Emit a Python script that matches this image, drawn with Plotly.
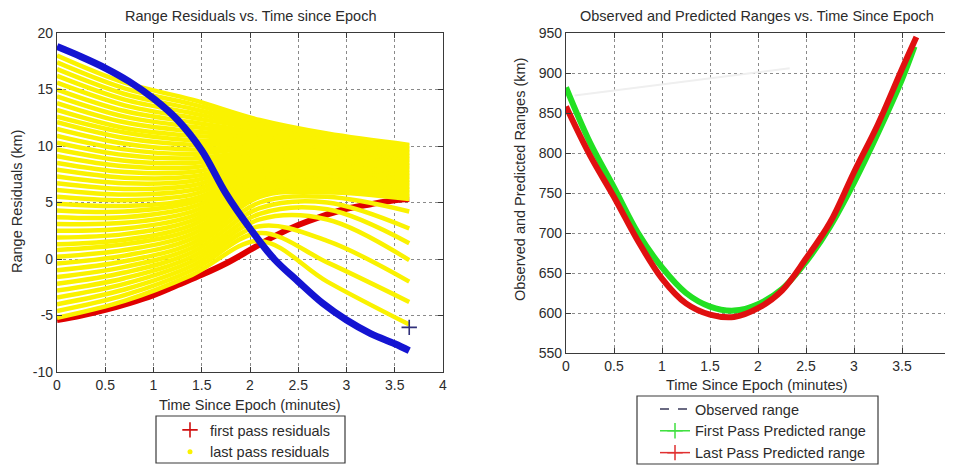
import plotly.graph_objects as go

# ---------------- Left panel: Range residuals ----------------
time_grid = [0, 0.25, 0.5, 0.75, 1.0, 1.25, 1.5, 1.75, 2.0, 2.25, 2.5, 2.75, 3.0, 3.25, 3.5, 3.65]
blue_resid = [18.8, 17.9, 16.9, 15.7, 14.2, 12.3, 9.6, 5.8, 2.7, 0.0, -2.0, -3.9, -5.4, -6.6, -7.5, -8.1]
first_pass_resid = [-5.4, -5.0, -4.5, -3.9, -3.2, -2.3, -1.4, -0.4, 0.8, 2.0, 3.0, 3.8, 4.45, 4.85, 5.2, 5.3]

# last-pass residual family: value of each yellow curve at the sampled times
yellow_t = [0, 0.7, 1.4, 2.1, 2.8, 3.65]
yellow_at_0_00 = [-5.2, -4.6, -4.0, -3.4, -2.8, -2.2, -1.6, -1.0, -0.4, 0.2, 0.8, 1.3, 1.9, 2.5, 3.1, 3.7, 4.3, 4.9, 5.5, 6.1,
                  6.7, 7.3, 7.9, 8.5, 9.1, 9.7, 10.3, 10.9, 11.5, 12.1, 12.6, 13.2, 13.8, 14.4, 15.0, 15.6, 16.2, 16.8, 17.4, 18.0]
yellow_at_0_70 = [-3.7, -3.2, -2.7, -2.2, -1.7, -1.2, -0.7, -0.2, 0.3, 0.8, 1.3, 1.7, 2.2, 2.7, 3.2, 3.7, 4.2, 4.7, 5.2, 5.7,
                  6.2, 6.7, 7.2, 7.7, 8.2, 8.7, 9.2, 9.7, 10.2, 10.7, 11.2, 11.6, 12.1, 12.6, 13.1, 13.6, 14.1, 14.6, 15.1, 15.6]
yellow_at_1_40 = [-1.4, -1.0, -0.6, -0.2, 0.2, 0.6, 1.0, 1.4, 1.8, 2.2, 2.6, 3.0, 3.4, 3.8, 4.2, 4.6, 5.0, 5.3, 5.7, 6.1,
                  6.5, 6.9, 7.3, 7.7, 8.1, 8.5, 8.9, 9.3, 9.7, 10.1, 10.5, 10.9, 11.3, 11.7, 12.1, 12.5, 12.9, 13.3, 13.7, 14.1]
yellow_at_2_10 = [1.6, 2.3, 2.9, 3.5, 4.0, 4.5, 5.0, 5.5, 5.7, 5.9, 6.1, 6.4, 6.6, 6.8, 7.0, 7.2, 7.4, 7.6, 7.8, 8.1,
                  8.3, 8.5, 8.7, 8.9, 9.1, 9.3, 9.5, 9.8, 10.0, 10.2, 10.4, 10.6, 10.8, 11.0, 11.2, 11.5, 11.7, 11.9, 12.1, 12.3]
yellow_at_2_80 = [-2.0, -0.3, 1.6, 3.5, 4.4, 5.0, 5.5, 5.9, 6.1, 6.2, 6.4, 6.6, 6.7, 6.9, 7.0, 7.2, 7.4, 7.5, 7.7, 7.9,
                  8.0, 8.2, 8.3, 8.5, 8.7, 8.8, 9.0, 9.1, 9.3, 9.5, 9.6, 9.8, 10.0, 10.1, 10.3, 10.4, 10.6, 10.8, 10.9, 11.1]
yellow_at_3_65 = [-5.8, -3.8, -2.0, -0.1, 1.4, 2.7, 4.2, 5.3, 5.5, 5.6, 5.8, 5.9, 6.1, 6.2, 6.4, 6.5, 6.7, 6.8, 7.0, 7.1,
                  7.3, 7.4, 7.6, 7.7, 7.9, 8.0, 8.2, 8.3, 8.5, 8.6, 8.8, 8.9, 9.1, 9.2, 9.4, 9.5, 9.7, 9.8, 10.0, 10.1]

extra_plus_t = [3.65]
extra_plus_r = [-6.05]

# ---------------- Right panel: ranges ----------------
range_t = [0, 0.25, 0.5, 0.75, 1.0, 1.25, 1.5, 1.75, 2.0, 2.25, 2.5, 2.75, 3.0, 3.25, 3.5, 3.63]
first_pass_range = [882, 813, 757, 700, 657, 625, 608, 603, 611, 630, 664, 708, 763, 825, 892, 933]
last_t = [0, 0.25, 0.5, 0.75, 1.0, 1.25, 1.5, 1.75, 2.0, 2.25, 2.5, 2.75, 3.0, 3.25, 3.5, 3.65]
last_pass_range = [858, 797, 745, 690, 643, 612, 598, 595, 606, 628, 668, 713, 776, 836, 905, 945]
observed_t = [0.09, 2.33]
observed_range = [872, 906]

x_ticks = [0, 0.5, 1, 1.5, 2, 2.5, 3, 3.5, 4]
x_labels = ["0", "0.5", "1", "1.5", "2", "2.5", "3", "3.5", "4"]
left_y_ticks = [-10, -5, 0, 5, 10, 15, 20]
left_y_labels = ["-10", "-5", "0", "5", "10", "15", "20"]
right_y_ticks = [550, 600, 650, 700, 750, 800, 850, 900, 950]
right_y_labels = [str(v) for v in right_y_ticks]

W, H = 953, 466
OFF = 8  # the page body places the figure 8 px from the window's top-left corner
FONT = "Liberation Sans, Arial, sans-serif"
TXT = "#2b2b2b"
YEL = "#FAF200"


def px(xp):
    return (xp - OFF) / W


def py(yp):
    return 1 - (yp - OFF) / H


fig = go.Figure()

# left panel traces (red under yellow, blue on top)
fig.add_trace(go.Scatter(x=time_grid, y=first_pass_resid, mode="lines",
                         line=dict(color="#E00000", width=6, shape="spline"),
                         xaxis="x", yaxis="y", showlegend=False, hoverinfo="skip"))
yellow_cols = [yellow_at_0_00, yellow_at_0_70, yellow_at_1_40, yellow_at_2_10, yellow_at_2_80, yellow_at_3_65]
for k in range(len(yellow_at_0_00)):
    fig.add_trace(go.Scatter(x=yellow_t, y=[c[k] for c in yellow_cols], mode="lines",
                             line=dict(color=YEL, width=4.5, shape="spline"),
                             xaxis="x", yaxis="y", showlegend=False, hoverinfo="skip"))
fig.add_trace(go.Scatter(x=time_grid, y=blue_resid, mode="lines",
                         line=dict(color="#1414D2", width=7, shape="spline"),
                         xaxis="x", yaxis="y", showlegend=False, hoverinfo="skip"))
fig.add_trace(go.Scatter(x=extra_plus_t, y=extra_plus_r, mode="markers",
                         marker=dict(symbol="cross-thin", size=11, line=dict(color="#30307A", width=1.6)),
                         xaxis="x", yaxis="y", showlegend=False, hoverinfo="skip"))

# left legend entries
fig.add_trace(go.Scatter(x=[None], y=[None], mode="markers", name="first pass residuals",
                         marker=dict(symbol="cross-thin", size=11, line=dict(color="#D01010", width=1.6)),
                         xaxis="x", yaxis="y", legend="legend"))
fig.add_trace(go.Scatter(x=[None], y=[None], mode="markers", name="last pass residuals",
                         marker=dict(symbol="circle", size=5, color=YEL),
                         xaxis="x", yaxis="y", legend="legend"))

# right panel traces
fig.add_trace(go.Scatter(x=observed_t, y=observed_range, mode="lines",
                         line=dict(color="#EFEFEF", width=2),
                         xaxis="x2", yaxis="y2", showlegend=False, hoverinfo="skip"))
fig.add_trace(go.Scatter(x=range_t, y=first_pass_range, mode="lines",
                         line=dict(color="#22E022", width=6, shape="spline"),
                         xaxis="x2", yaxis="y2", showlegend=False, hoverinfo="skip"))
fig.add_trace(go.Scatter(x=last_t, y=last_pass_range, mode="lines",
                         line=dict(color="#E01010", width=6, shape="spline"),
                         xaxis="x2", yaxis="y2", showlegend=False, hoverinfo="skip"))

# right legend entries
fig.add_trace(go.Scatter(x=[None], y=[None], mode="lines", name="Observed range",
                         line=dict(color="#3A3A5A", width=1.5, dash="dash"),
                         xaxis="x2", yaxis="y2", legend="legend2"))
fig.add_trace(go.Scatter(x=[None], y=[None], mode="lines+markers", name="First Pass Predicted range",
                         line=dict(color="#40E040", width=1.5),
                         marker=dict(symbol="cross-thin", size=11, line=dict(color="#40E040", width=1.5)),
                         xaxis="x2", yaxis="y2", legend="legend2"))
fig.add_trace(go.Scatter(x=[None], y=[None], mode="lines+markers", name="Last Pass Predicted range",
                         line=dict(color="#E03030", width=1.5),
                         marker=dict(symbol="cross-thin", size=11, line=dict(color="#E03030", width=1.5)),
                         xaxis="x2", yaxis="y2", legend="legend2"))

axis_common = dict(showline=True, linecolor="#3a3a3a", linewidth=1.2, mirror="ticks",
                   ticks="inside", ticklen=5, tickcolor="#3a3a3a", automargin=False,
                   showgrid=True, gridcolor="#8a8a8a", griddash="dot", gridwidth=1,
                   zeroline=False, tickfont=dict(family=FONT, size=14, color=TXT))

fig.update_layout(
    width=W, height=H, autosize=False,
    margin=dict(l=0, r=0, t=0, b=0, pad=0),
    paper_bgcolor="white", plot_bgcolor="white",
    xaxis=dict(domain=[px(57), px(443)], range=[0, 4], tickvals=x_ticks, ticktext=x_labels,
               anchor="y", **axis_common),
    yaxis=dict(domain=[py(372), py(33)], range=[-10, 20], tickvals=left_y_ticks, ticktext=left_y_labels,
               anchor="x", **axis_common),
    xaxis2=dict(domain=[px(566), px(950)], range=[0, 4], tickvals=x_ticks, ticktext=x_labels,
                anchor="y2", **axis_common),
    yaxis2=dict(domain=[py(353), py(33)], range=[550, 950], tickvals=right_y_ticks, ticktext=right_y_labels,
                anchor="x2", **axis_common),
    legend=dict(x=px(170), y=py(414), xanchor="left", yanchor="top",
                bgcolor="rgba(0,0,0,0)", borderwidth=0, tracegroupgap=0,
                font=dict(family=FONT, size=14.5, color=TXT)),
    legend2=dict(x=px(655), y=py(393), xanchor="left", yanchor="top",
                 bgcolor="rgba(0,0,0,0)", borderwidth=0, tracegroupgap=0,
                 font=dict(family=FONT, size=14.5, color=TXT)),
    showlegend=True,
)

# legend frames
fig.add_shape(type="rect", xref="paper", yref="paper", x0=px(156), x1=px(345), y0=py(463), y1=py(416),
              line=dict(color="#3a3a3a", width=1.2), fillcolor="rgba(0,0,0,0)", layer="above")
fig.add_shape(type="rect", xref="paper", yref="paper", x0=px(637), x1=px(878), y0=py(464), y1=py(396),
              line=dict(color="#3a3a3a", width=1.2), fillcolor="rgba(0,0,0,0)", layer="above")

# titles
ann = [
    dict(text="Range Residuals vs. Time since Epoch", x=px(250), y=py(16)),
    dict(text="Observed and Predicted Ranges vs. Time Since Epoch", x=px(757), y=py(16)),
    dict(text="Time Since Epoch (minutes)", x=px(250), y=py(405)),
    dict(text="Time Since Epoch (minutes)", x=px(757), y=py(385)),
    dict(text="Range Residuals (km)", x=px(17), y=py(202), textangle=-90),
    dict(text="Observed and Predicted Ranges (km)", x=px(520), y=py(180), textangle=-90),
]
for a in ann:
    fig.add_annotation(xref="paper", yref="paper", showarrow=False, xanchor="center", yanchor="middle",
                       font=dict(family=FONT, size=14.5, color=TXT), **a)

fig.write_html("out.html")
